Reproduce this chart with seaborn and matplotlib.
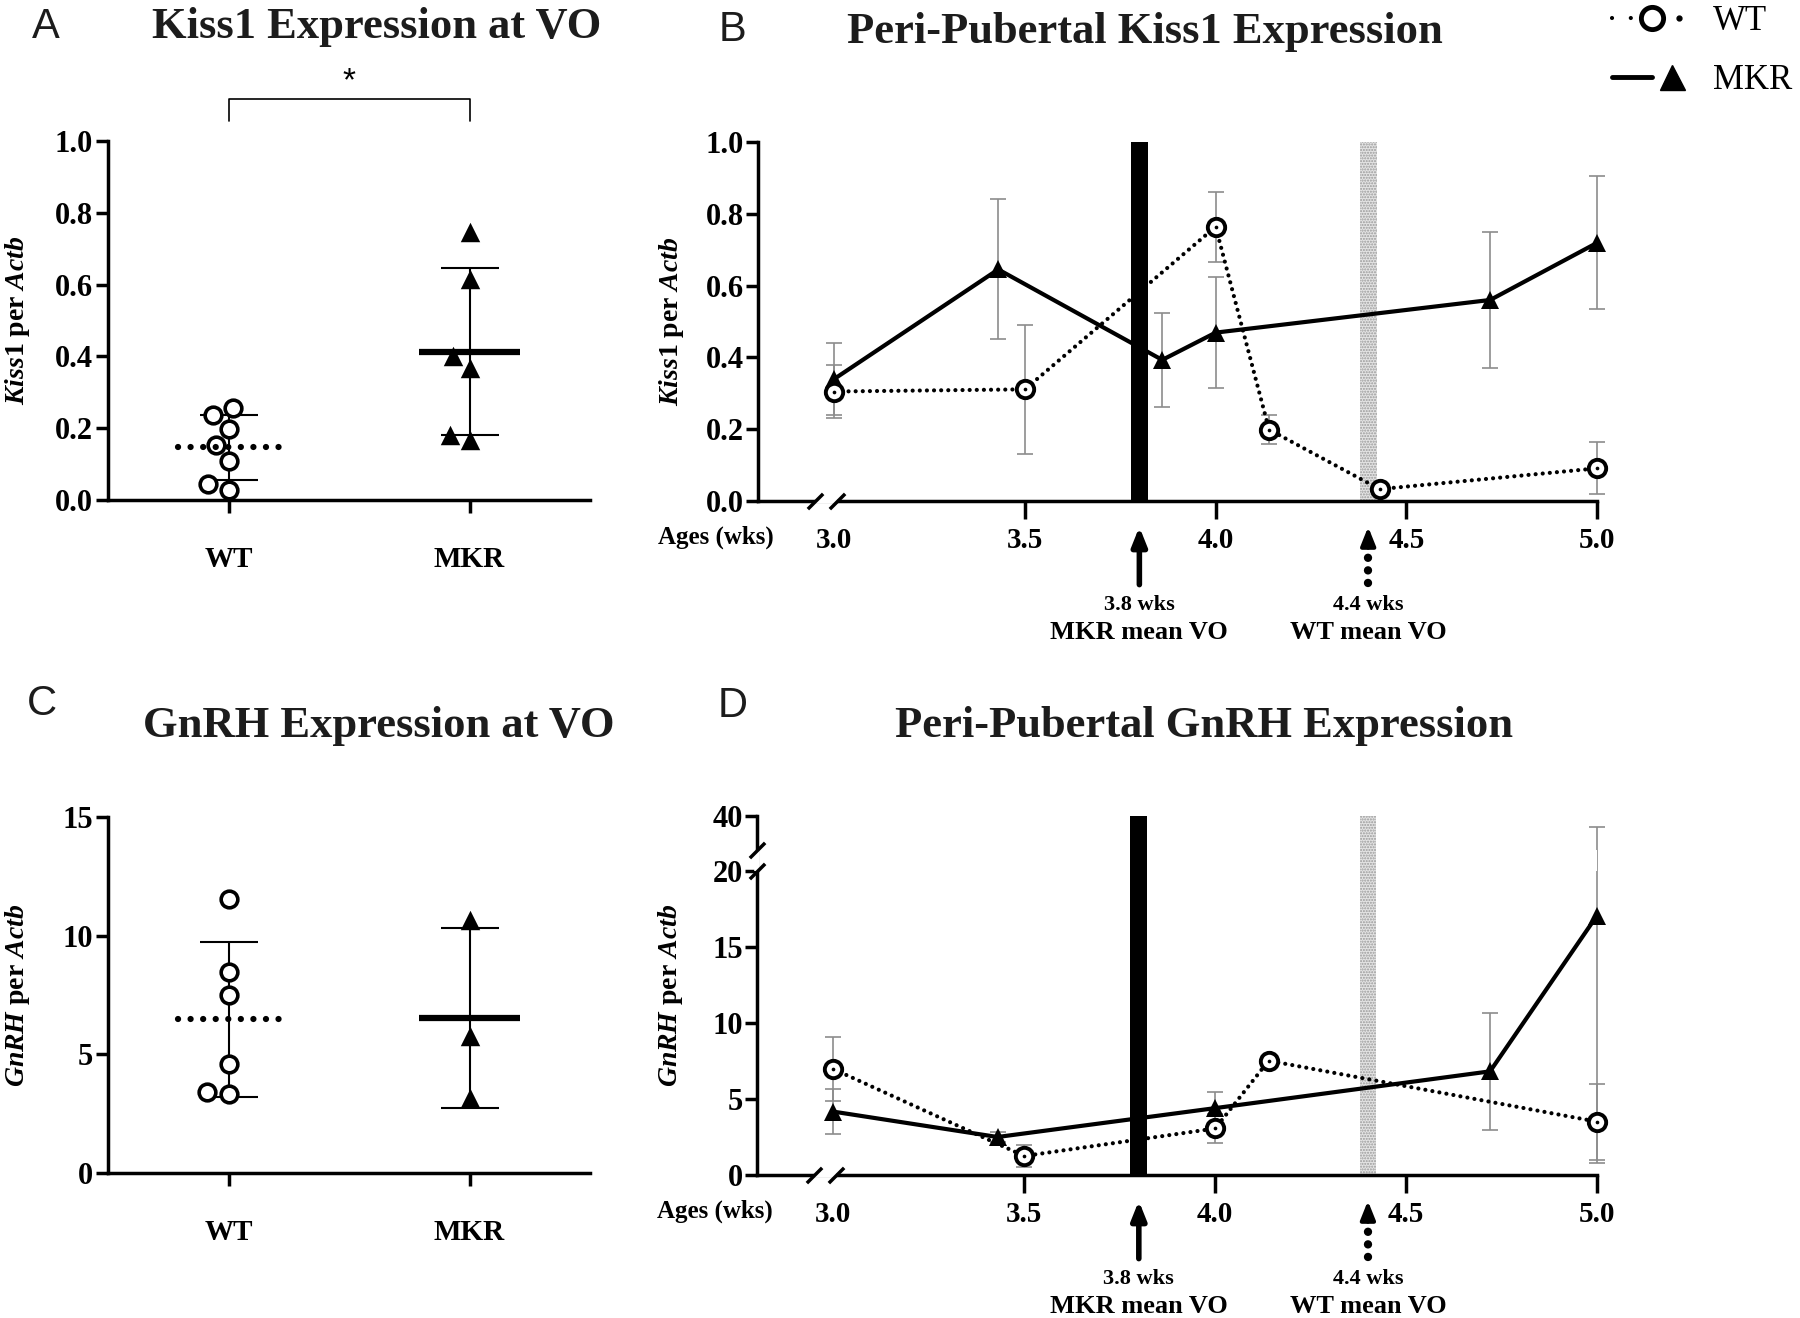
import numpy as np
import pandas as pd
import matplotlib.pyplot as plt
from matplotlib.lines import Line2D
from matplotlib.patches import Rectangle
from matplotlib.legend_handler import HandlerTuple
from matplotlib.ticker import FormatStrFormatter
import seaborn as sns

# Panel A: Kiss1 per Actb at vaginal opening (one value per animal)
kiss_wt = [0.255, 0.238, 0.199, 0.154, 0.109, 0.045, 0.028]
kiss_mkr = [0.747, 0.616, 0.400, 0.367, 0.167, 0.181]

# Panel C: GnRH per Actb at vaginal opening
gnrh_wt = [11.54, 8.48, 7.50, 4.60, 3.33, 3.41]
gnrh_mkr = [10.64, 5.76, 3.17]

# Panel B: peri-pubertal Kiss1 (mean and SD by age in weeks)
b_wt_age = [3.0, 3.5, 4.0, 4.14, 4.43, 5.0]
b_wt_mean = [0.305, 0.311, 0.764, 0.199, 0.033, 0.091]
b_wt_sd = [0.075, 0.18, 0.098, 0.041, 0.01, 0.072]
b_mkr_age = [3.0, 3.43, 3.86, 4.0, 4.72, 5.0]
b_mkr_mean = [0.34, 0.645, 0.393, 0.469, 0.56, 0.719]
b_mkr_sd = [0.10, 0.195, 0.13, 0.155, 0.19, 0.185]

# Panel D: peri-pubertal GnRH
d_wt_age = [3.0, 3.5, 4.0, 4.14, 5.0]
d_wt_mean = [6.97, 1.25, 3.06, 7.52, 3.51]
d_wt_sd = [2.08, 0.72, 0.97, 0.3, 2.5]
d_mkr_age = [3.0, 3.43, 4.0, 4.72, 5.0]
d_mkr_mean = [4.17, 2.5, 4.4, 6.82, 17.07]
d_mkr_sd = [1.5, 0.3, 1.03, 3.85, 16.3]

# mean age at vaginal opening
vo_groups = ["MKR", "WT"]
vo_weeks = [3.8, 4.4]

groups = ["WT", "MKR"]

sns.set_theme(style="ticks")
plt.rcParams.update({
    "font.family": ["Liberation Serif", "DejaVu Serif"],
    "font.weight": "bold",
    "axes.labelweight": "bold",
    "axes.edgecolor": "black",
    "axes.labelcolor": "black",
    "axes.linewidth": 2.5,
    "xtick.color": "black",
    "ytick.color": "black",
    "text.color": "black",
    "mathtext.fontset": "custom",
    "mathtext.rm": "Liberation Serif:bold",
    "mathtext.it": "Liberation Serif:italic:bold",
    "mathtext.bf": "Liberation Serif:bold",
    "hatch.linewidth": 1.0,
})

W, H = 1800, 1318
fig = plt.figure(figsize=(W / 100, H / 100), dpi=100)


def add_axes(left, top, right, bottom):
    return fig.add_axes([left / W, 1 - bottom / H, (right - left) / W, (bottom - top) / H])


ax_a = add_axes(108, 141, 590, 500)
ax_b = add_axes(758, 142, 1597, 501)
ax_c = add_axes(108, 817, 590, 1173)
ax_d = add_axes(757, 816, 1597, 1175)


def vo_scatter(ax, wt, mkr, ylim, yticks, ylabel):
    df = pd.DataFrame({"group": ["WT"] * len(wt) + ["MKR"] * len(mkr), "value": wt + mkr})
    ax.set_ylim(*ylim)
    sns.swarmplot(data=df[df["group"] == "WT"], x="group", y="value", order=groups, ax=ax,
                  marker="o", color="white", edgecolor="black", linewidth=2.6, size=12, zorder=3)
    sns.swarmplot(data=df[df["group"] == "MKR"], x="group", y="value", order=groups, ax=ax,
                  marker="^", color="black", size=14, zorder=3)
    stats = df.groupby("group")["value"].agg(["mean", "std"]).reindex(groups)
    for i, g in enumerate(groups):
        m, s = stats.loc[g, "mean"], stats.loc[g, "std"]
        ax.errorbar(i, m, yerr=s, fmt="none", ecolor="black", elinewidth=1.5,
                    capsize=21, capthick=1.5, zorder=2)
        if g == "WT":
            ax.hlines(m, i - 0.21, i + 0.21, colors="black", lw=4.5,
                      linestyles=(0, (0.01, 2.0)), capstyle="round", zorder=4)
        else:
            ax.hlines(m, i - 0.21, i + 0.21, colors="black", lw=4.5, zorder=4)
    ax.set_xlim(-0.5, 1.5)
    ax.set_ylim(*ylim)
    ax.set_yticks(yticks)
    ax.set_xlabel("")
    ax.set_ylabel(ylabel, fontsize=20)
    ax.yaxis.set_label_coords(-0.158, 0.5)
    ax.tick_params(axis="both", direction="out", width=2.5, length=9, labelsize=22, pad=2)
    ax.tick_params(axis="x", labelsize=21, pad=24)
    sns.despine(ax=ax)


def break_x(ax, lo, hi):
    ax.plot([lo, hi], [0, 0], color="white", lw=4, transform=ax.transAxes,
            clip_on=False, zorder=5, solid_capstyle="butt")
    ax.plot([lo, hi], [0, 0], marker=[(-1, -1), (1, 1)], markersize=11, linestyle="none",
            color="black", mec="black", mew=2.5, transform=ax.transAxes, clip_on=False, zorder=6)


def vo_markers(ax):
    tr = ax.get_xaxis_transform()
    for g, wk in zip(vo_groups, vo_weeks):
        if g == "MKR":
            ax.axvspan(wk - 0.022, wk + 0.022, ymin=0, ymax=1, color="black", lw=0, zorder=2)
            ax.annotate("", xy=(wk, -0.072), xytext=(wk, -0.233), xycoords=tr, textcoords=tr,
                        arrowprops=dict(arrowstyle="-|>,head_length=0.55,head_width=0.22",
                                        mutation_scale=20, lw=4, color="black",
                                        shrinkA=0, shrinkB=0),
                        annotation_clip=False)
        else:
            ax.axvspan(wk - 0.022, wk + 0.022, ymin=0, ymax=1, facecolor="#e4e4e4",
                       edgecolor="#9a9a9a", hatch="......", lw=0, zorder=2)
            ax.annotate("", xy=(wk, -0.072), xytext=(wk, -0.13), xycoords=tr, textcoords=tr,
                        arrowprops=dict(arrowstyle="-|>,head_length=0.55,head_width=0.22",
                                        mutation_scale=20, lw=3, color="black",
                                        shrinkA=0, shrinkB=0),
                        annotation_clip=False)
            ax.plot([wk, wk], [-0.229, -0.15], transform=tr, color="black", lw=6,
                    linestyle=(0, (0.01, 1.5)), dash_capstyle="round", clip_on=False)
        ax.text(wk, -0.29, f"{wk} wks", transform=tr, ha="center", va="center",
                fontsize=16, fontweight="bold")
        ax.text(wk, -0.365, f"{g} mean VO", transform=tr, ha="center", va="center",
                fontsize=19, fontweight="bold")


def time_course(ax, wt_age, wt_mean, wt_sd, mkr_age, mkr_mean, mkr_sd, ylabel):
    for x, m, s in ((wt_age, wt_mean, wt_sd), (mkr_age, mkr_mean, mkr_sd)):
        ax.errorbar(x, m, yerr=s, fmt="none", ecolor="#8c8c8c", elinewidth=1.2,
                    capsize=6, capthick=1.2, zorder=1, clip_on=False)
    sns.lineplot(x=mkr_age, y=mkr_mean, ax=ax, color="black", linewidth=3, marker="^",
                 markersize=13, markeredgecolor="black", markeredgewidth=0,
                 errorbar=None, zorder=4, clip_on=False)
    sns.lineplot(x=wt_age, y=wt_mean, ax=ax, color="black", linewidth=3,
                 linestyle=(0, (0.01, 1.7)), dash_capstyle="round", marker="o",
                 markersize=12.5, markerfacecolor="white", markeredgecolor="black",
                 markeredgewidth=2.8, errorbar=None, zorder=5, clip_on=False)
    sns.scatterplot(x=wt_age, y=wt_mean, ax=ax, color="black", s=7, linewidth=0,
                    zorder=6, clip_on=False)
    ax.set_xlim(2.8, 5.0)
    ax.set_xticks([3.0, 3.5, 4.0, 4.5, 5.0])
    ax.xaxis.set_major_formatter(FormatStrFormatter("%.1f"))
    ax.xaxis.get_major_ticks()[0].tick1line.set_visible(False)
    ax.tick_params(axis="both", direction="out", width=2.5, length=9, labelsize=22, pad=1)
    ax.tick_params(axis="x", length=13, labelsize=21, pad=6)
    ax.set_ylabel(ylabel, fontsize=20)
    ax.yaxis.set_label_coords(-0.086, 0.5)
    ax.text(-0.05, -0.10, "Ages (wks)", transform=ax.transAxes, ha="center", va="center",
            fontsize=18, fontweight="bold")
    sns.despine(ax=ax)
    break_x(ax, 0.068, 0.094)
    vo_markers(ax)


# A
vo_scatter(ax_a, kiss_wt, kiss_mkr, (0, 1.0), np.arange(0, 1.01, 0.2),
           r"$\mathit{Kiss1}$ per $\mathit{Actb}$")
ax_a.yaxis.set_major_formatter(FormatStrFormatter("%.1f"))
tr = ax_a.get_xaxis_transform()
ax_a.plot([0, 0, 1, 1], [1.056, 1.117, 1.117, 1.056], color="black", lw=1.2,
          transform=tr, clip_on=False)
ax_a.text(0.5, 1.165, "*", transform=tr, ha="center", va="center", fontsize=24,
          fontweight="normal", family="Liberation Sans")

# C
vo_scatter(ax_c, gnrh_wt, gnrh_mkr, (0, 15), [0, 5, 10, 15],
           r"$\mathit{GnRH}$ per $\mathit{Actb}$")

# B
time_course(ax_b, b_wt_age, b_wt_mean, b_wt_sd, b_mkr_age, b_mkr_mean, b_mkr_sd,
            r"$\mathit{Kiss1}$ per $\mathit{Actb}$")
ax_b.set_ylim(0, 1.0)
ax_b.set_yticks(np.arange(0, 1.01, 0.2))
ax_b.yaxis.set_major_formatter(FormatStrFormatter("%.1f"))

# D with a broken y axis (0-20 linear, 20-40 compressed)
BREAK, GAP, K = 20.0, 1.38, 0.112


def fwd(y):
    y = np.asarray(y, float)
    return np.where(y <= BREAK, y, BREAK + GAP + (y - BREAK) * K)


def inv(u):
    u = np.asarray(u, float)
    return np.where(u <= BREAK, u,
                    np.where(u < BREAK + GAP, BREAK, BREAK + (u - BREAK - GAP) / K))


ax_d.set_yscale("function", functions=(fwd, inv))
time_course(ax_d, d_wt_age, d_wt_mean, d_wt_sd, d_mkr_age, d_mkr_mean, d_mkr_sd,
            r"$\mathit{GnRH}$ per $\mathit{Actb}$")
ax_d.set_ylim(0, 40)
ax_d.set_yticks([0, 5, 10, 15, 20, 40])
ax_d.yaxis.set_major_formatter(FormatStrFormatter("%d"))
ax_d.yaxis.set_minor_locator(plt.NullLocator())
top_t = float(fwd(40))
lo, hi = BREAK / top_t, (BREAK + GAP) / top_t
ax_d.add_patch(Rectangle((0, lo), 1, hi - lo, transform=ax_d.transAxes, color="white",
                         lw=0, zorder=1.5))
ax_d.plot([0, 0], [lo, hi], color="white", lw=4, transform=ax_d.transAxes,
          clip_on=False, zorder=5, solid_capstyle="butt")
ax_d.plot([0, 0], [lo, hi], marker=[(-1, -1), (1, 1)], markersize=11, linestyle="none",
          color="black", mec="black", mew=2.5, transform=ax_d.transAxes, clip_on=False,
          zorder=6)

# titles and panel letters
title_kw = dict(ha="center", va="center", fontsize=32, fontweight="bold", color="#1c1c1c")
letter_kw = dict(ha="center", va="center", fontsize=30, fontweight="normal",
                 family="Liberation Sans", color="#1c1c1c")
for letter, lx, ly, title, tx, ty in [
    ("A", 46, 27, "Kiss1 Expression at VO", 377, 27),
    ("B", 733, 30, "Peri-Pubertal Kiss1 Expression", 1145, 32),
    ("C", 42, 704, "GnRH Expression at VO", 379, 726),
    ("D", 733, 706, "Peri-Pubertal GnRH Expression", 1204, 726),
]:
    fig.text(lx / W, 1 - ly / H, letter, **letter_kw)
    fig.text(tx / W, 1 - ty / H, title, **title_kw)

# legend
wt_handle = (Line2D([], [], color="black", lw=3, linestyle=(0, (0.01, 4.5)),
                    dash_capstyle="round"),
             Line2D([], [], marker="o", markersize=16, markerfacecolor="white",
                    markeredgecolor="black", markeredgewidth=3.5, linestyle="none"),
             Line2D([], [], marker="o", markersize=3.5, color="black", linestyle="none"))
mkr_handle = (Line2D([], [], color="black", lw=3.5),
              Line2D([], [], marker="^", markersize=18, color="black", linestyle="none"))
fig.legend([wt_handle, mkr_handle], ["WT", "MKR"], handler_map={tuple: HandlerTuple(ndivide=None)},
           loc="upper left", bbox_to_anchor=(1612 / W, 0.996), frameon=False,
           prop={"family": "Liberation Serif", "weight": "normal", "size": 25},
           handlelength=2.3, handletextpad=0.6, labelspacing=0.75, borderaxespad=0, borderpad=0)

fig.savefig("out.png", dpi=100)
